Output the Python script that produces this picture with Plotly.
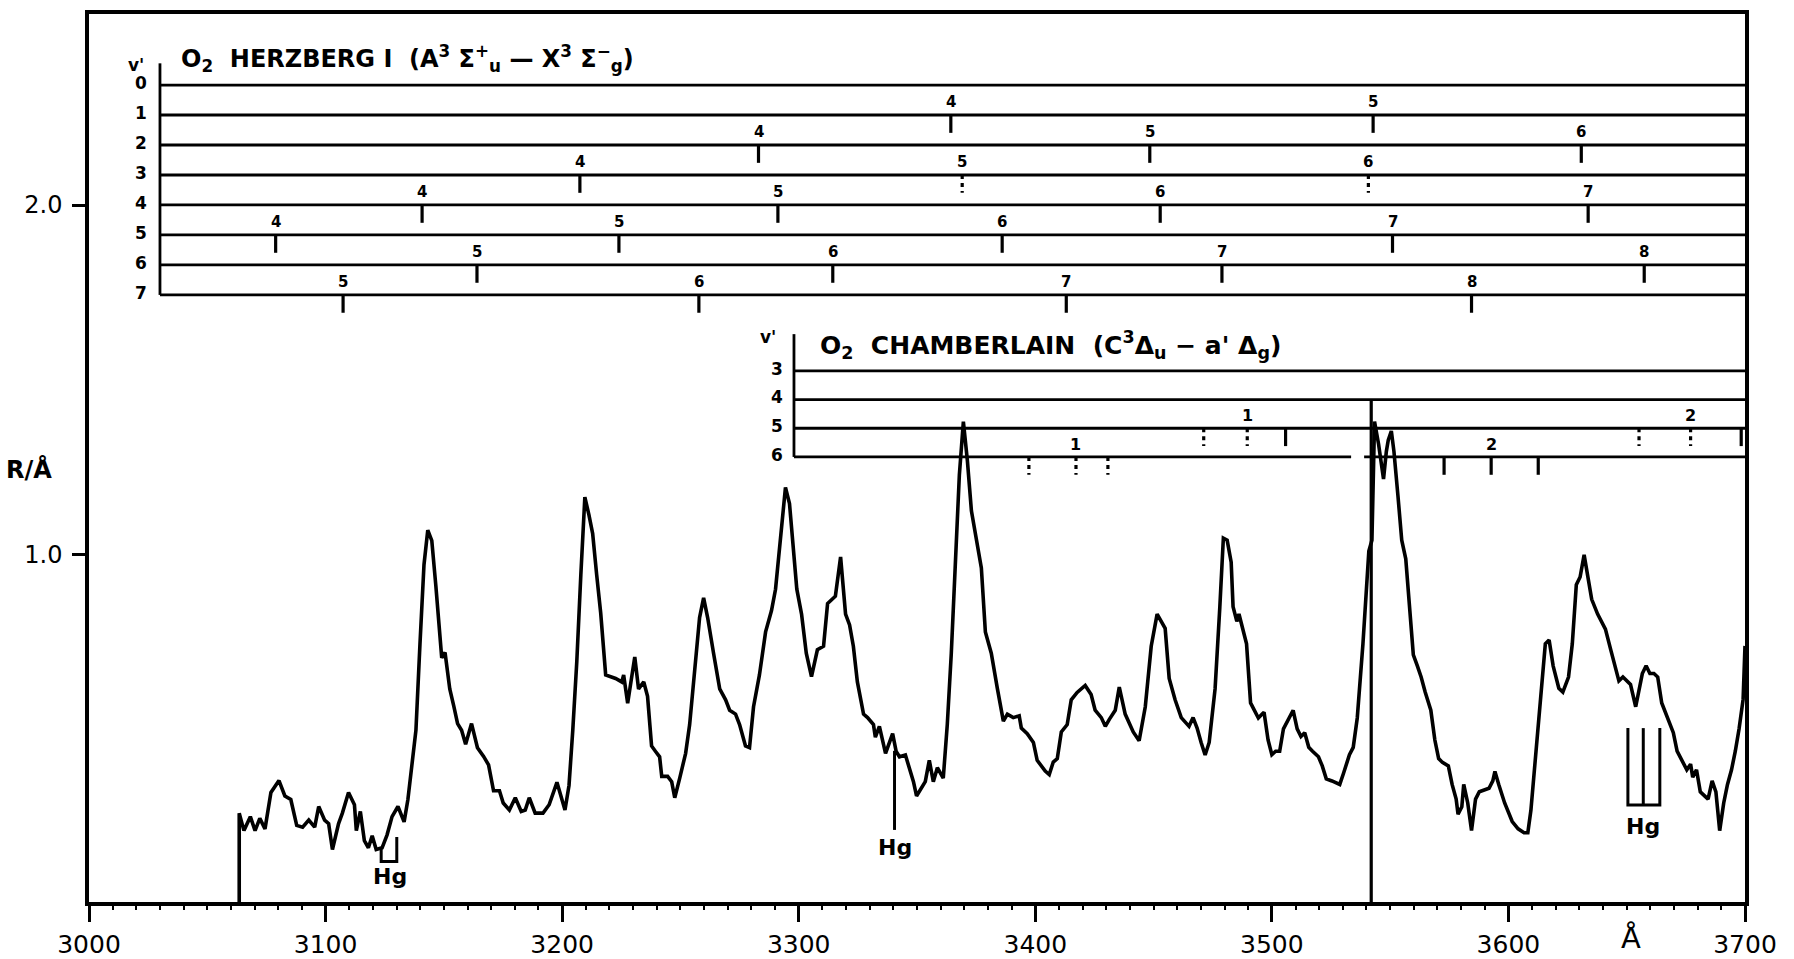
import plotly.graph_objects as go

# ---------------- spectrum (wavelength in Angstrom, R per Angstrom) ----------------
wavelength = [
    3063.5, 3063.5, 3065.5, 3068.2, 3070.2, 3072.2, 3074.4, 3076.9, 3080.3, 3082.8,
    3085.3, 3087.8, 3090.3, 3092.9, 3095.4, 3097.1, 3099.6, 3101.3, 3102.9, 3105.5,
    3107.1, 3109.7, 3112.2, 3113.0, 3114.7, 3116.4, 3118.1, 3119.7, 3121.4, 3123.9,
    3126.0, 3128.1, 3130.6, 3133.2, 3134.8, 3136.5, 3138.2, 3139.9, 3141.6, 3143.2,
    3144.9, 3146.6, 3148.3, 3149.1, 3150.5, 3152.5, 3154.2, 3155.8, 3157.5, 3159.2,
    3161.7, 3164.2, 3166.8, 3168.9, 3171.0, 3173.5, 3175.1, 3177.7, 3180.2, 3182.7,
    3184.4, 3186.1, 3188.6, 3191.9, 3194.5, 3197.8, 3201.2, 3202.9, 3204.5, 3206.2,
    3207.9, 3209.6, 3211.3, 3212.9, 3214.6, 3216.3, 3218.4, 3222.6, 3225.2, 3226.0,
    3227.7, 3229.4, 3230.7, 3232.3, 3234.5, 3236.1, 3237.8, 3239.5, 3241.2, 3242.1,
    3244.6, 3246.3, 3247.6, 3249.7, 3252.2, 3253.9, 3255.9, 3258.1, 3259.8, 3261.5,
    3264.0, 3266.6, 3269.1, 3270.8, 3273.3, 3275.0, 3277.5, 3279.2, 3280.9, 3283.4,
    3286.0, 3288.5, 3290.2, 3291.9, 3294.4, 3296.1, 3297.8, 3299.2, 3301.2, 3303.2,
    3305.4, 3307.9, 3310.5, 3312.2, 3313.9, 3315.5, 3317.7, 3319.8, 3321.5, 3323.1,
    3324.8, 3327.4, 3329.1, 3331.6, 3332.4, 3334.1, 3336.7, 3338.3, 3339.7, 3341.2,
    3342.6, 3345.1, 3346.8, 3348.5, 3349.8, 3351.9, 3353.5, 3355.2, 3356.9, 3358.6,
    3361.1, 3362.8, 3364.5, 3366.2, 3367.9, 3369.6, 3371.3, 3373.0, 3375.5, 3377.2,
    3378.9, 3381.4, 3384.0, 3386.5, 3388.2, 3390.7, 3393.2, 3394.1, 3396.6, 3399.2,
    3400.8, 3402.5, 3404.2, 3405.9, 3407.6, 3409.3, 3411.0, 3413.5, 3415.2, 3417.7,
    3421.1, 3423.6, 3425.3, 3427.9, 3429.6, 3431.3, 3433.8, 3435.5, 3438.0, 3441.4,
    3443.9, 3446.5, 3449.0, 3451.5, 3454.9, 3456.6, 3459.1, 3461.7, 3465.0, 3466.7,
    3468.4, 3470.1, 3471.8, 3473.5, 3476.0, 3478.0, 3479.5, 3481.1, 3482.8, 3483.6,
    3485.2, 3486.1, 3487.7, 3489.3, 3491.0, 3492.6, 3494.3, 3495.9, 3496.7, 3498.4,
    3500.0, 3501.6, 3503.3, 3504.9, 3507.4, 3509.0, 3510.7, 3512.3, 3513.9, 3515.6,
    3517.2, 3519.7, 3521.3, 3523.0, 3525.4, 3527.0, 3528.7, 3530.3, 3532.8, 3534.4,
    3536.1, 3538.5, 3541.0, 3542.3, 3543.4, 3545.1, 3545.9, 3547.2, 3548.4, 3549.2,
    3550.5, 3551.6, 3553.3, 3554.9, 3556.6, 3558.2, 3559.8, 3561.5, 3563.1, 3564.8,
    3567.2, 3568.9, 3570.5, 3572.1, 3574.6, 3576.2, 3577.9, 3578.7, 3580.3, 3581.1,
    3582.8, 3584.4, 3586.1, 3587.7, 3589.3, 3591.8, 3593.4, 3594.3, 3595.9, 3598.4,
    3601.6, 3604.1, 3606.6, 3608.2, 3609.5, 3611.5, 3613.9, 3615.6, 3617.2, 3618.9,
    3621.3, 3623.0, 3625.4, 3627.0, 3628.7, 3630.3, 3632.0, 3633.6, 3635.2, 3637.7,
    3641.0, 3643.4, 3645.1, 3646.7, 3648.4, 3650.0, 3651.6, 3653.8, 3654.9, 3656.6,
    3658.2, 3659.8, 3661.5, 3663.1, 3664.8, 3667.2, 3669.7, 3671.3, 3673.8, 3675.4,
    3677.0, 3677.9, 3679.5, 3681.1, 3682.8, 3684.4, 3686.1, 3687.7, 3689.3, 3691.0,
    3692.6, 3694.3, 3695.9, 3697.5, 3699.2, 3700.0,
]
intensity = [
    0.000, 0.262, 0.212, 0.252, 0.212, 0.247, 0.217, 0.321, 0.355, 0.311,
    0.301, 0.227, 0.222, 0.242, 0.222, 0.281, 0.242, 0.232, 0.158, 0.232,
    0.262, 0.321, 0.286, 0.212, 0.267, 0.183, 0.163, 0.197, 0.158, 0.163,
    0.200, 0.252, 0.281, 0.237, 0.301, 0.400, 0.499, 0.745, 0.972, 1.071,
    1.041, 0.913, 0.755, 0.706, 0.721, 0.617, 0.568, 0.518, 0.499, 0.459,
    0.518, 0.449, 0.424, 0.400, 0.326, 0.326, 0.291, 0.271, 0.306, 0.267,
    0.271, 0.306, 0.262, 0.262, 0.286, 0.350, 0.271, 0.341, 0.499, 0.696,
    0.943, 1.165, 1.115, 1.061, 0.943, 0.834, 0.657, 0.647, 0.637, 0.657,
    0.576, 0.657, 0.708, 0.617, 0.637, 0.596, 0.454, 0.438, 0.423, 0.367,
    0.367, 0.352, 0.306, 0.362, 0.433, 0.515, 0.668, 0.821, 0.877, 0.821,
    0.719, 0.617, 0.586, 0.556, 0.545, 0.515, 0.454, 0.449, 0.566, 0.657,
    0.780, 0.841, 0.902, 1.024, 1.193, 1.147, 1.024, 0.902, 0.831, 0.719,
    0.652, 0.729, 0.739, 0.861, 0.872, 0.882, 0.994, 0.831, 0.800, 0.739,
    0.637, 0.545, 0.535, 0.515, 0.479, 0.510, 0.433, 0.464, 0.489, 0.438,
    0.423, 0.428, 0.392, 0.352, 0.311, 0.336, 0.352, 0.413, 0.352, 0.392,
    0.362, 0.515, 0.719, 0.973, 1.228, 1.381, 1.269, 1.126, 1.024, 0.963,
    0.780, 0.719, 0.617, 0.525, 0.545, 0.535, 0.540, 0.505, 0.489, 0.464,
    0.413, 0.398, 0.382, 0.372, 0.408, 0.418, 0.494, 0.515, 0.586, 0.607,
    0.627, 0.601, 0.556, 0.535, 0.510, 0.530, 0.556, 0.622, 0.545, 0.494,
    0.469, 0.566, 0.739, 0.831, 0.790, 0.647, 0.586, 0.535, 0.510, 0.535,
    0.505, 0.464, 0.428, 0.464, 0.617, 0.850, 1.048, 1.042, 0.979, 0.852,
    0.810, 0.831, 0.788, 0.746, 0.577, 0.556, 0.534, 0.545, 0.550, 0.471,
    0.429, 0.439, 0.439, 0.503, 0.534, 0.556, 0.503, 0.481, 0.492, 0.450,
    0.439, 0.423, 0.397, 0.360, 0.354, 0.349, 0.344, 0.376, 0.429, 0.450,
    0.534, 0.746, 1.011, 1.042, 1.381, 1.317, 1.275, 1.217, 1.296, 1.328,
    1.354, 1.296, 1.169, 1.042, 0.989, 0.852, 0.714, 0.683, 0.651, 0.608,
    0.556, 0.471, 0.418, 0.407, 0.397, 0.344, 0.302, 0.259, 0.280, 0.344,
    0.291, 0.212, 0.302, 0.323, 0.328, 0.333, 0.354, 0.381, 0.344, 0.291,
    0.238, 0.217, 0.206, 0.206, 0.270, 0.429, 0.640, 0.746, 0.757, 0.683,
    0.619, 0.608, 0.651, 0.746, 0.915, 0.937, 1.000, 0.937, 0.873, 0.831,
    0.788, 0.725, 0.683, 0.640, 0.651, 0.640, 0.630, 0.566, 0.608, 0.661,
    0.683, 0.661, 0.661, 0.651, 0.577, 0.534, 0.492, 0.439, 0.407, 0.386,
    0.402, 0.365, 0.386, 0.323, 0.312, 0.302, 0.354, 0.323, 0.212, 0.291,
    0.344, 0.386, 0.439, 0.503, 0.587, 0.740,
]

# ---------------- axis ticks ----------------
x_tick_values = [3000, 3100, 3200, 3300, 3400, 3500, 3600, 3700]
x_tick_labels = ["3000", "3100", "3200", "3300", "3400", "3500", "3600", "3700"]
y_tick_values = [1.0, 2.0]
y_tick_labels = ["1.0", "2.0"]

# ---------------- O2 Herzberg I band heads ----------------
herz_levels = [0, 1, 2, 3, 4, 5, 6, 7]
herz_vp = [1, 1, 2, 2, 2, 3, 3, 3, 4, 4, 4, 4, 5, 5, 5, 5, 6, 6, 6, 6, 7, 7, 7, 7]
herz_vpp = [4, 5, 4, 5, 6, 4, 5, 6, 4, 5, 6, 7, 4, 5, 6, 7, 5, 6, 7, 8, 5, 6, 7, 8]
herz_wl = [3364.3, 3542.8, 3283.0, 3448.4, 3630.8, 3207.5, 3369.1, 3540.8,
           3140.8, 3291.2, 3452.8, 3633.7, 3078.9, 3224.0, 3386.0, 3551.0,
           3164.0, 3314.4, 3478.9, 3657.4, 3107.4, 3257.8, 3413.1, 3584.4]
herz_dotted = [False, False, False, False, False, False, True, True,
               False, False, False, False, False, False, False, False,
               False, False, False, False, False, False, False, False]

# ---------------- O2 Chamberlain band heads ----------------
cham_levels = [3, 4, 5, 6]
cham_vp = [5, 5, 5, 6, 6, 6, 5, 5, 5, 6, 6, 6]
cham_vpp = [1, 1, 1, 1, 1, 1, 2, 2, 2, 2, 2, 2]
cham_wl = [3471.2, 3489.6, 3505.8, 3397.3, 3417.2, 3430.7,
           3655.2, 3677.0, 3698.4, 3572.8, 3592.7, 3612.6]
cham_dotted = [True, True, False, True, True, True,
               True, True, False, False, False, False]
cham_labelled = [False, True, False, False, True, False,
                 False, True, False, False, True, False]

# ---------------- Hg lines ----------------
hg_label_wl = [3127.2, 3340.5, 3657.0]
hg_label_r = [0.080, 0.165, 0.225]
hg1_wl = [3123.5, 3123.5, 3130.1, 3130.1]
hg1_r = [0.163, 0.124, 0.124, 0.194]
hg2_wl = [3340.5, 3340.5]
hg2_r = [0.440, 0.214]
hg3_wl = [3650.5, 3650.5, 3664.0, 3664.0, None, 3657.0, 3657.0]
hg3_r = [0.505, 0.285, 0.285, 0.505, None, 0.505, 0.285]

# ---------------- layout constants ----------------
X0, X1 = 3000, 3700
Y0, Y1 = 0.008, 2.546
HERZ_LEFT = 3030.0
HERZ_TOP, HERZ_STEP = 2.343, 0.0857
CHAM_LEFT = 3298.0
CHAM_TOP, CHAM_STEP = 1.526, 0.082
TICK_LEN = 0.051
LABEL_OFF = 0.036
CUT_WL = 3542.0
FONT = "DejaVu Sans"
INK = "#000000"


def herz_y(v):
    return HERZ_TOP - HERZ_STEP * v


def cham_y(v):
    return CHAM_TOP - CHAM_STEP * (v - 3)


def bold(size):
    return dict(family=FONT, size=size, color=INK, weight="bold")


fig = go.Figure()

# panel frame lines
hx, hy = [HERZ_LEFT, HERZ_LEFT, None], [herz_y(0) + 0.062, herz_y(7), None]
for v in herz_levels:
    hx += [HERZ_LEFT, X1, None]
    hy += [herz_y(v), herz_y(v), None]
cx, cy = [CHAM_LEFT, CHAM_LEFT, None], [cham_y(3) + 0.105, cham_y(6), None]
for v in cham_levels:
    if v == 6:
        cx += [CHAM_LEFT, 3533.5, None, 3539.0, X1, None]
        cy += [cham_y(v), cham_y(v), None, cham_y(v), cham_y(v), None]
    else:
        cx += [CHAM_LEFT, X1, None]
        cy += [cham_y(v), cham_y(v), None]
fig.add_trace(go.Scatter(x=hx + cx, y=hy + cy, mode="lines",
                         line=dict(color=INK, width=2.8), hoverinfo="skip", showlegend=False))

# band-head ticks
sx, sy, dx, dy = [], [], [], []
for wl, vp, dot in zip(herz_wl, herz_vp, herz_dotted):
    y = herz_y(vp)
    if dot:
        dx += [wl, wl, None]; dy += [y, y - TICK_LEN, None]
    else:
        sx += [wl, wl, None]; sy += [y, y - TICK_LEN, None]
for wl, vp, dot in zip(cham_wl, cham_vp, cham_dotted):
    y = cham_y(vp)
    if dot:
        dx += [wl, wl, None]; dy += [y, y - TICK_LEN, None]
    else:
        sx += [wl, wl, None]; sy += [y, y - TICK_LEN, None]
fig.add_trace(go.Scatter(x=sx, y=sy, mode="lines", line=dict(color=INK, width=3.2),
                         hoverinfo="skip", showlegend=False))
fig.add_trace(go.Scatter(x=dx, y=dy, mode="lines", line=dict(color=INK, width=3.2, dash="4px,4px"),
                         hoverinfo="skip", showlegend=False))

# vertical cut line
fig.add_trace(go.Scatter(x=[CUT_WL, CUT_WL], y=[0, cham_y(4)], mode="lines",
                         line=dict(color=INK, width=3.2), hoverinfo="skip", showlegend=False))

# Hg markers
fig.add_trace(go.Scatter(x=hg1_wl + [None] + hg2_wl + [None] + hg3_wl,
                         y=hg1_r + [None] + hg2_r + [None] + hg3_r,
                         mode="lines", line=dict(color=INK, width=3),
                         hoverinfo="skip", showlegend=False))

# spectrum
fig.add_trace(go.Scatter(x=wavelength, y=intensity, mode="lines",
                         line=dict(color=INK, width=3.6), hoverinfo="skip", showlegend=False))

ann = []
# Herzberg panel texts
ann.append(dict(x=3038, y=2.418, xref="x", yref="y", xanchor="left", yanchor="middle",
                text="O<sub>2</sub>  HERZBERG I  (A<sup>3</sup> Σ<sup>+</sup><sub>u</sub> — X<sup>3</sup> Σ<sup>−</sup><sub>g</sub>)",
                showarrow=False, font=bold(24)))
ann.append(dict(x=3020, y=2.400, xref="x", yref="y", text="v'", showarrow=False, font=bold(17)))
for v in herz_levels:
    ann.append(dict(x=3022, y=herz_y(v) + 0.006, xref="x", yref="y", text=str(v),
                    showarrow=False, font=bold(17)))
for wl, vp, vpp in zip(herz_wl, herz_vp, herz_vpp):
    ann.append(dict(x=wl, y=herz_y(vp) + LABEL_OFF, xref="x", yref="y", text=str(vpp),
                    showarrow=False, font=bold(15)))
# Chamberlain panel texts
ann.append(dict(x=3308, y=1.600, xref="x", yref="y", xanchor="left", yanchor="middle",
                text="O<sub>2</sub>  CHAMBERLAIN  (C<sup>3</sup>Δ<sub>u</sub> − a' Δ<sub>g</sub>)",
                showarrow=False, font=bold(25)))
ann.append(dict(x=3287, y=1.622, xref="x", yref="y", text="v'", showarrow=False, font=bold(17)))
for v in cham_levels:
    ann.append(dict(x=3291, y=cham_y(v) + 0.006, xref="x", yref="y", text=str(v),
                    showarrow=False, font=bold(17)))
for wl, vp, vpp, lab in zip(cham_wl, cham_vp, cham_vpp, cham_labelled):
    if lab:
        ann.append(dict(x=wl, y=cham_y(vp) + LABEL_OFF, xref="x", yref="y", text=str(vpp),
                        showarrow=False, font=bold(16)))
# Hg labels
for wl, r in zip(hg_label_wl, hg_label_r):
    ann.append(dict(x=wl, y=r, xref="x", yref="y", text="Hg", showarrow=False, font=bold(22)))
# axis titles
ann.append(dict(x=-0.036, y=1.245, xref="paper", yref="y", xanchor="center", yanchor="middle",
                text="R/Å", showarrow=False, font=bold(24)))
ann.append(dict(x=3652, y=-0.040, xref="x", yref="paper", xanchor="center", text="Å",
                showarrow=False, yanchor="middle", font=dict(family=FONT, size=29, color=INK)))

fig.update_layout(
    width=1794, height=959,
    margin=dict(l=89, r=49, t=14, b=57, autoexpand=False),
    paper_bgcolor="white", plot_bgcolor="white",
    showlegend=False,
    annotations=ann,
    xaxis=dict(range=[X0, X1], tickvals=x_tick_values, ticktext=x_tick_labels,
               automargin=False,
               showgrid=False, zeroline=False, showline=True, linewidth=3.5, linecolor=INK,
               mirror=True, ticks="outside", ticklen=16, tickwidth=3, tickcolor=INK,
               ticklabelstandoff=1,
               tickfont=dict(family=FONT, size=25, color=INK),
               minor=dict(tick0=3000, dtick=10, ticks="outside", ticklen=4, tickwidth=2,
                          tickcolor=INK, showgrid=False)),
    yaxis=dict(range=[Y0, Y1], tickvals=y_tick_values, ticktext=y_tick_labels,
               automargin=False,
               showgrid=False, zeroline=False, showline=True, linewidth=3.5, linecolor=INK,
               mirror=True, ticks="outside", ticklen=13, tickwidth=3, tickcolor=INK,
               ticklabelstandoff=5,
               tickfont=dict(family=FONT, size=24, color=INK)),
)

fig.write_html("out.html")
